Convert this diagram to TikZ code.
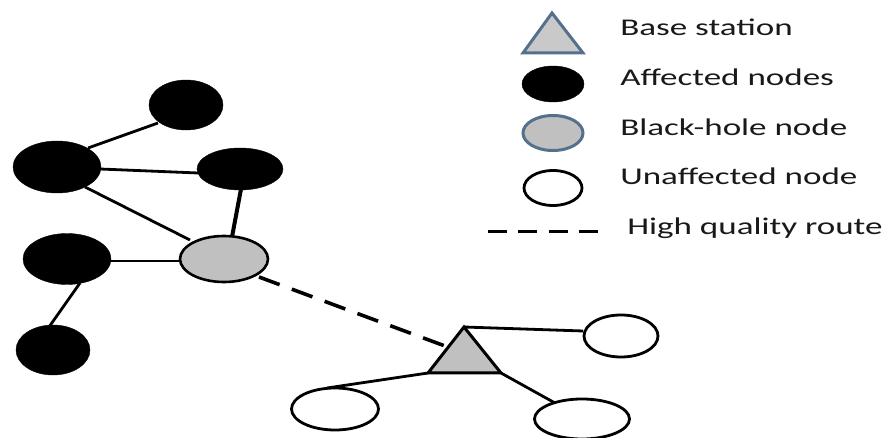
\documentclass[tikz,border=0pt]{standalone}
\usepackage{fontspec}
\setmainfont{Carlito}
\usetikzlibrary{shapes.geometric}
\definecolor{bluegrey}{RGB}{84,112,140}
\definecolor{fillgrey}{RGB}{192,192,192}
\tikzset{
  x=1pt,y=-1pt,
  ell/.style={ellipse,inner sep=0pt,outer sep=0pt},
  affected/.style={ell,fill=black,draw=black},
  blackhole/.style={ell,fill=fillgrey,draw=bluegrey,line width=3pt},
  hole/.style={ell,fill=fillgrey,draw=black,line width=2.6pt},
  unaffected/.style={ell,fill=white,draw=black,line width=2.8pt},
  link/.style={draw=black,line width=2.8pt},
  heavylink/.style={draw=black,line width=4pt},
  route/.style={draw=black,line width=3.6pt,dash pattern=on 22pt off 13pt},
  legend/.style={anchor=base west,inner sep=0pt,font=\fontsize{24}{24}\selectfont,xscale=1.46,text=black!90},
}
\begin{document}
\begin{tikzpicture}
\useasboundingbox (0,0) rectangle (884,438);
\node[affected,minimum width=74pt,minimum height=50pt] (a1) at (186,105) {};
\node[affected,minimum width=88pt,minimum height=52pt] (a2) at (57,167) {};
\node[affected,minimum width=86pt,minimum height=42pt] (a3) at (240,169) {};
\node[affected,minimum width=88pt,minimum height=51pt] (a4) at (67,259) {};
\node[affected,minimum width=74pt,minimum height=50pt] (a5) at (53,350) {};
\node[hole,minimum width=88pt,minimum height=46pt] (bh) at (224,259) {};
\node[unaffected,minimum width=74pt,minimum height=42pt] (u1) at (621,336) {};
\node[unaffected,minimum width=87pt,minimum height=42pt] (u2) at (335,409) {};
\node[unaffected,minimum width=95pt,minimum height=40pt] (u3) at (582,419) {};
\coordinate (ta) at (464,327);
\coordinate (tl) at (428,373);
\coordinate (tr) at (501,373);
\coordinate (te) at (445,346);
\coordinate (u1in) at (583,331);
\coordinate (u2in) at (327,388);
\coordinate (u3in) at (555,403);
\coordinate (a1e) at (158,123);
\coordinate (a2n) at (88,148);
\coordinate (a2e) at (100,169);
\coordinate (a3w) at (198,173);
\coordinate (a2s) at (85,187);
\coordinate (bhn) at (190,240);
\coordinate (a3b) at (241,189);
\coordinate (bht) at (232,237);
\coordinate (a4e) at (110,261);
\coordinate (bhw) at (181,261);
\coordinate (a4b) at (80,283);
\coordinate (a5t) at (49,327);
\coordinate (bhs) at (259,277);
\draw[fill=fillgrey,draw=black,line width=3pt,line join=miter] (ta) -- (tl) -- (tr) -- cycle;
\draw[link] (a1e) -- (a2n);
\draw[link] (a2e) -- (a3w);
\draw[link] (a2s) -- (bhn);
\draw[heavylink] (a3b) -- (bht);
\draw[link] (a4e) -- (bhw);
\draw[link] (a4b) -- (a5t);
\draw[link] (ta) -- (u1in);
\draw[link] (tl) -- (u2in);
\draw[link] (tr) -- (u3in);
\draw[route] (bhs) -- (te);
% legend
\coordinate (la) at (552,13);
\coordinate (ll) at (523,53);
\coordinate (lr) at (583,53);
\draw[fill=fillgrey!85,draw=bluegrey,line width=3pt] (la) -- (ll) -- (lr) -- cycle;
\node[affected,minimum width=62pt,minimum height=36pt] (lk1) at (553,84) {};
\node[blackhole,minimum width=60pt,minimum height=35pt] (lk2) at (553,133) {};
\node[unaffected,minimum width=58pt,minimum height=35pt] (lk3) at (553,188) {};
\coordinate (ld1) at (488,232);
\coordinate (ld2) at (598,232);
\draw[draw=black,line width=3pt,dash pattern=on 19pt off 11.3pt] (ld1) -- (ld2);
\node[legend] (t1) at (620,36) {Base station};
\node[legend] (t2) at (620,86) {Affected nodes};
\node[legend] (t3) at (620,136) {Black-hole node};
\node[legend] (t4) at (620,185) {Unaffected node};
\node[legend] (t5) at (627,235) {High quality route};
\end{tikzpicture}
\end{document}
